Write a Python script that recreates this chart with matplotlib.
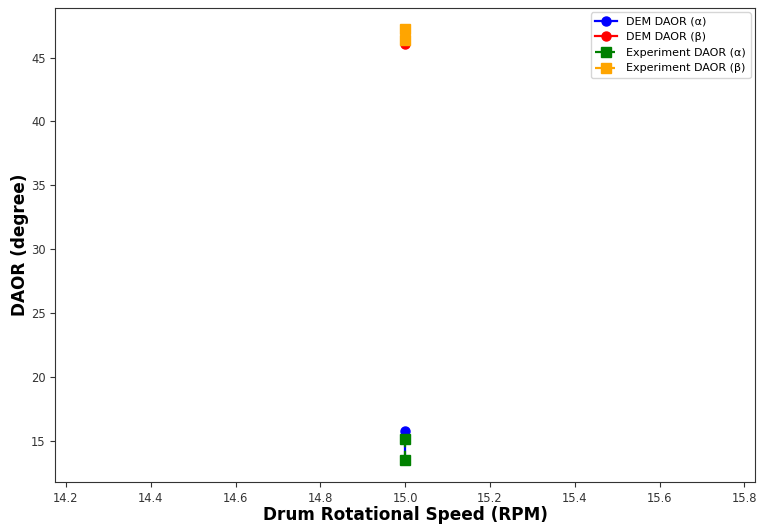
import matplotlib
matplotlib.use('Agg')
import matplotlib.pyplot as plt

rpm = [15.0, 15.0]
dem_alpha = [15.75, 13.5]
dem_beta = [46.05, 46.5]
exp_alpha = [15.1, 13.45]
exp_beta = [46.4, 47.2]

fig = plt.figure(figsize=(7.58, 5.25), dpi=100)
ax = fig.add_axes([0.073, 0.082, 0.923, 0.903])

ax.plot(rpm, dem_alpha, marker='o', linestyle='-', color='blue', markersize=6.5, linewidth=1.6, label='DEM DAOR (α)')
ax.plot(rpm, dem_beta, marker='o', linestyle='-', color='red', markersize=6.5, linewidth=1.6, label='DEM DAOR (β)')
ax.plot(rpm, exp_alpha, marker='s', linestyle='--', color='green', markersize=6.5, linewidth=1.6, label='Experiment DAOR (α)')
ax.plot(rpm, exp_beta, marker='s', linestyle='--', color='orange', markersize=6.5, linewidth=1.6, label='Experiment DAOR (β)')

ax.set_xlabel('Drum Rotational Speed (RPM)', fontsize=12.2, fontweight='bold', labelpad=1)
ax.set_ylabel('DAOR (degree)', fontsize=12.2, fontweight='bold', labelpad=1)
ax.tick_params(labelsize=8.3, colors='#333333')
for s in ax.spines.values():
    s.set_color('#333333')
ax.legend(loc='upper right', fontsize=8, borderaxespad=0.4)

fig.savefig('out.png')
